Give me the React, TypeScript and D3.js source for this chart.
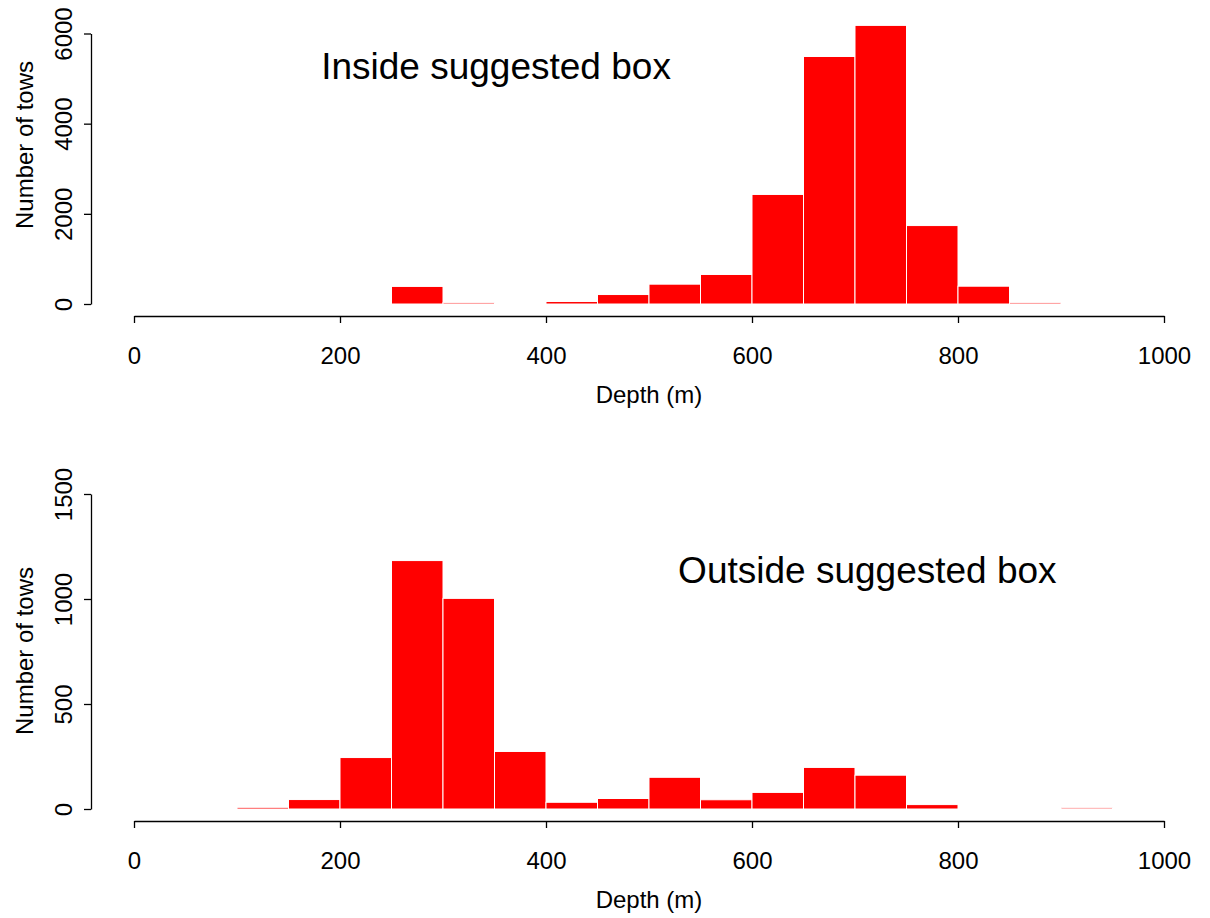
import { useEffect, useRef } from 'react'
import * as d3 from 'd3'

// histogram bins (m), 50 m wide
const binStarts = [0, 50, 100, 150, 200, 250, 300, 350, 400, 450, 500, 550, 600, 650, 700, 750, 800, 850, 900, 950]
const binWidth = 50

// tow counts
const insideCounts = [0, 0, 0, 0, 0, 390, 30, 0, 55, 210, 440, 655, 2430, 5490, 6180, 1740, 395, 30, 0, 0]
const outsideCounts = [0, 0, 8, 45, 245, 1183, 1003, 274, 32, 50, 151, 44, 79, 198, 161, 21, 0, 0, 6, 0]

const xTicks = [0, 200, 400, 600, 800, 1000]
const insideYTicks = [0, 2000, 4000, 6000]
const outsideYTicks = [0, 500, 1000, 1500]

const FONT = '"Liberation Sans", Arial, Helvetica, sans-serif'

export default function App() {
  const ref = useRef<SVGSVGElement>(null)

  useEffect(() => {
    if (!ref.current) return
    const svg = d3.select(ref.current)
    svg.selectAll('*').remove()

    const x = d3.scaleLinear().domain([0, 1000]).range([134, 1164])
    const fmt = d3.format('d')

    const panels = [
      {
        counts: insideCounts,
        yTicks: insideYTicks,
        y: d3.scaleLinear().domain([0, 6000]).range([304, 33.5]),
        axisY: 316,
        offset: 0,
        title: 'Inside suggested box',
        titleX: 351.5,
        titleY: 79,
        yLabelMid: 145,
      },
      {
        counts: outsideCounts,
        yTicks: outsideYTicks,
        y: d3.scaleLinear().domain([0, 1500]).range([809, 494]),
        axisY: 821,
        offset: 505,
        title: 'Outside suggested box',
        titleX: 712,
        titleY: 583,
        yLabelMid: 651,
      },
    ]

    panels.forEach((p) => {
      const g = svg.append('g')

      const bins = binStarts
        .map((s, i) => ({ s, n: p.counts[i] }))
        .filter((d) => d.n > 0)

      g.selectAll('rect')
        .data(bins)
        .join('rect')
        .attr('x', (d) => x(d.s))
        .attr('width', (d) => x(d.s + binWidth) - x(d.s))
        .attr('y', (d) => p.y(d.n))
        .attr('height', (d) => p.y(0) - p.y(d.n))
        .attr('fill', '#ff0000')
        .attr('stroke', '#ffffff')
        .attr('stroke-width', 1)

      // x axis
      const xa = g
        .append('g')
        .attr('transform', `translate(0,${p.axisY})`)
        .call(
          d3.axisBottom(x).tickValues(xTicks).tickFormat(fmt).tickSizeOuter(0).tickSizeInner(7).tickPadding(24)
        )
      xa.select('.domain').attr('stroke', '#000').attr('stroke-width', 1.3)
      xa.selectAll('.tick line').attr('stroke', '#000').attr('stroke-width', 1.3)
      xa.selectAll('.tick text')
        .attr('fill', '#000')
        .style('font-family', FONT)
        .style('font-size', '24px')

      // y axis
      const ya = g
        .append('g')
        .attr('transform', 'translate(91,0)')
        .call(d3.axisLeft(p.y).tickValues(p.yTicks).tickFormat(fmt).tickSizeOuter(0).tickSizeInner(7))
      ya.select('.domain').attr('stroke', '#000').attr('stroke-width', 1.3)
      ya.selectAll('.tick line').attr('stroke', '#000').attr('stroke-width', 1.3)
      ya.selectAll('.tick text')
        .attr('fill', '#000')
        .attr('x', null)
        .attr('dy', null)
        .attr('transform', 'translate(-19,0) rotate(-90)')
        .attr('text-anchor', 'middle')
        .style('font-family', FONT)
        .style('font-size', '24px')

      g.append('text')
        .attr('x', 649)
        .attr('y', 403 + p.offset)
        .attr('text-anchor', 'middle')
        .style('font-family', FONT)
        .style('font-size', '24px')
        .text('Depth (m)')

      g.append('text')
        .attr('transform', `translate(33,${p.yLabelMid}) rotate(-90)`)
        .attr('text-anchor', 'middle')
        .style('font-family', FONT)
        .style('font-size', '24px')
        .text('Number of tows')

      g.append('text')
        .attr('x', x(p.titleX))
        .attr('y', p.titleY)
        .attr('text-anchor', 'middle')
        .style('font-family', FONT)
        .style('font-size', '37px')
        .text(p.title)
    })
  }, [])

  return (
    <svg
      ref={ref}
      width={1210}
      height={918}
      style={{ position: 'absolute', left: 0, top: 0, background: '#fff' }}
    />
  )
}
